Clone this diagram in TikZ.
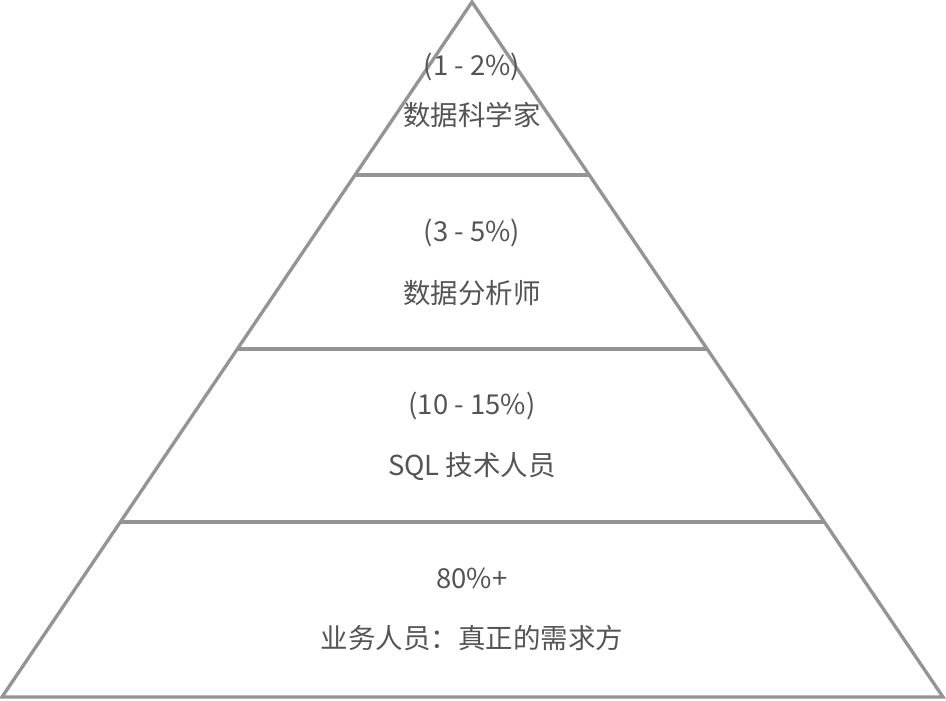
\documentclass[tikz,border=0pt]{standalone}
\usepackage{fontspec}
\setmainfont{Noto Sans CJK SC}
\begin{document}
\begin{tikzpicture}[x=0.75pt,y=-0.75pt,
    tier/.style={draw=black!42, line width=2.5pt, line join=miter},
    label/.style={text=black!67, font=\fontsize{20.6}{23}\selectfont, inner sep=0pt}]

    \useasboundingbox (0,0) rectangle (946,700);

    \coordinate (top) at (472,2);
    \coordinate (bl) at (2,697);
    \coordinate (br) at (943,697);

    \draw[tier] (top) -- (bl) -- (br) -- cycle;
    \draw[tier] (355,175) -- (590,175);
    \draw[tier] (238,349) -- (707,349);
    \draw[tier] (121,522) -- (825,522);

    \node[label] (p1) at (472,67) {(1 - 2\%)};
    \node[label] (r1) at (472,115) {数据科学家};

    \node[label] (p2) at (472,233) {(3 - 5\%)};
    \node[label] (r2) at (472,293) {数据分析师};

    \node[label] (p3) at (472,406) {(10 - 15\%)};
    \node[label] (r3) at (472,466) {SQL 技术人员};

    \node[label] (p4) at (472,578) {80\%+};
    \node[label] (r4) at (472,638) {业务人员：真正的需求方};

\end{tikzpicture}
\end{document}
